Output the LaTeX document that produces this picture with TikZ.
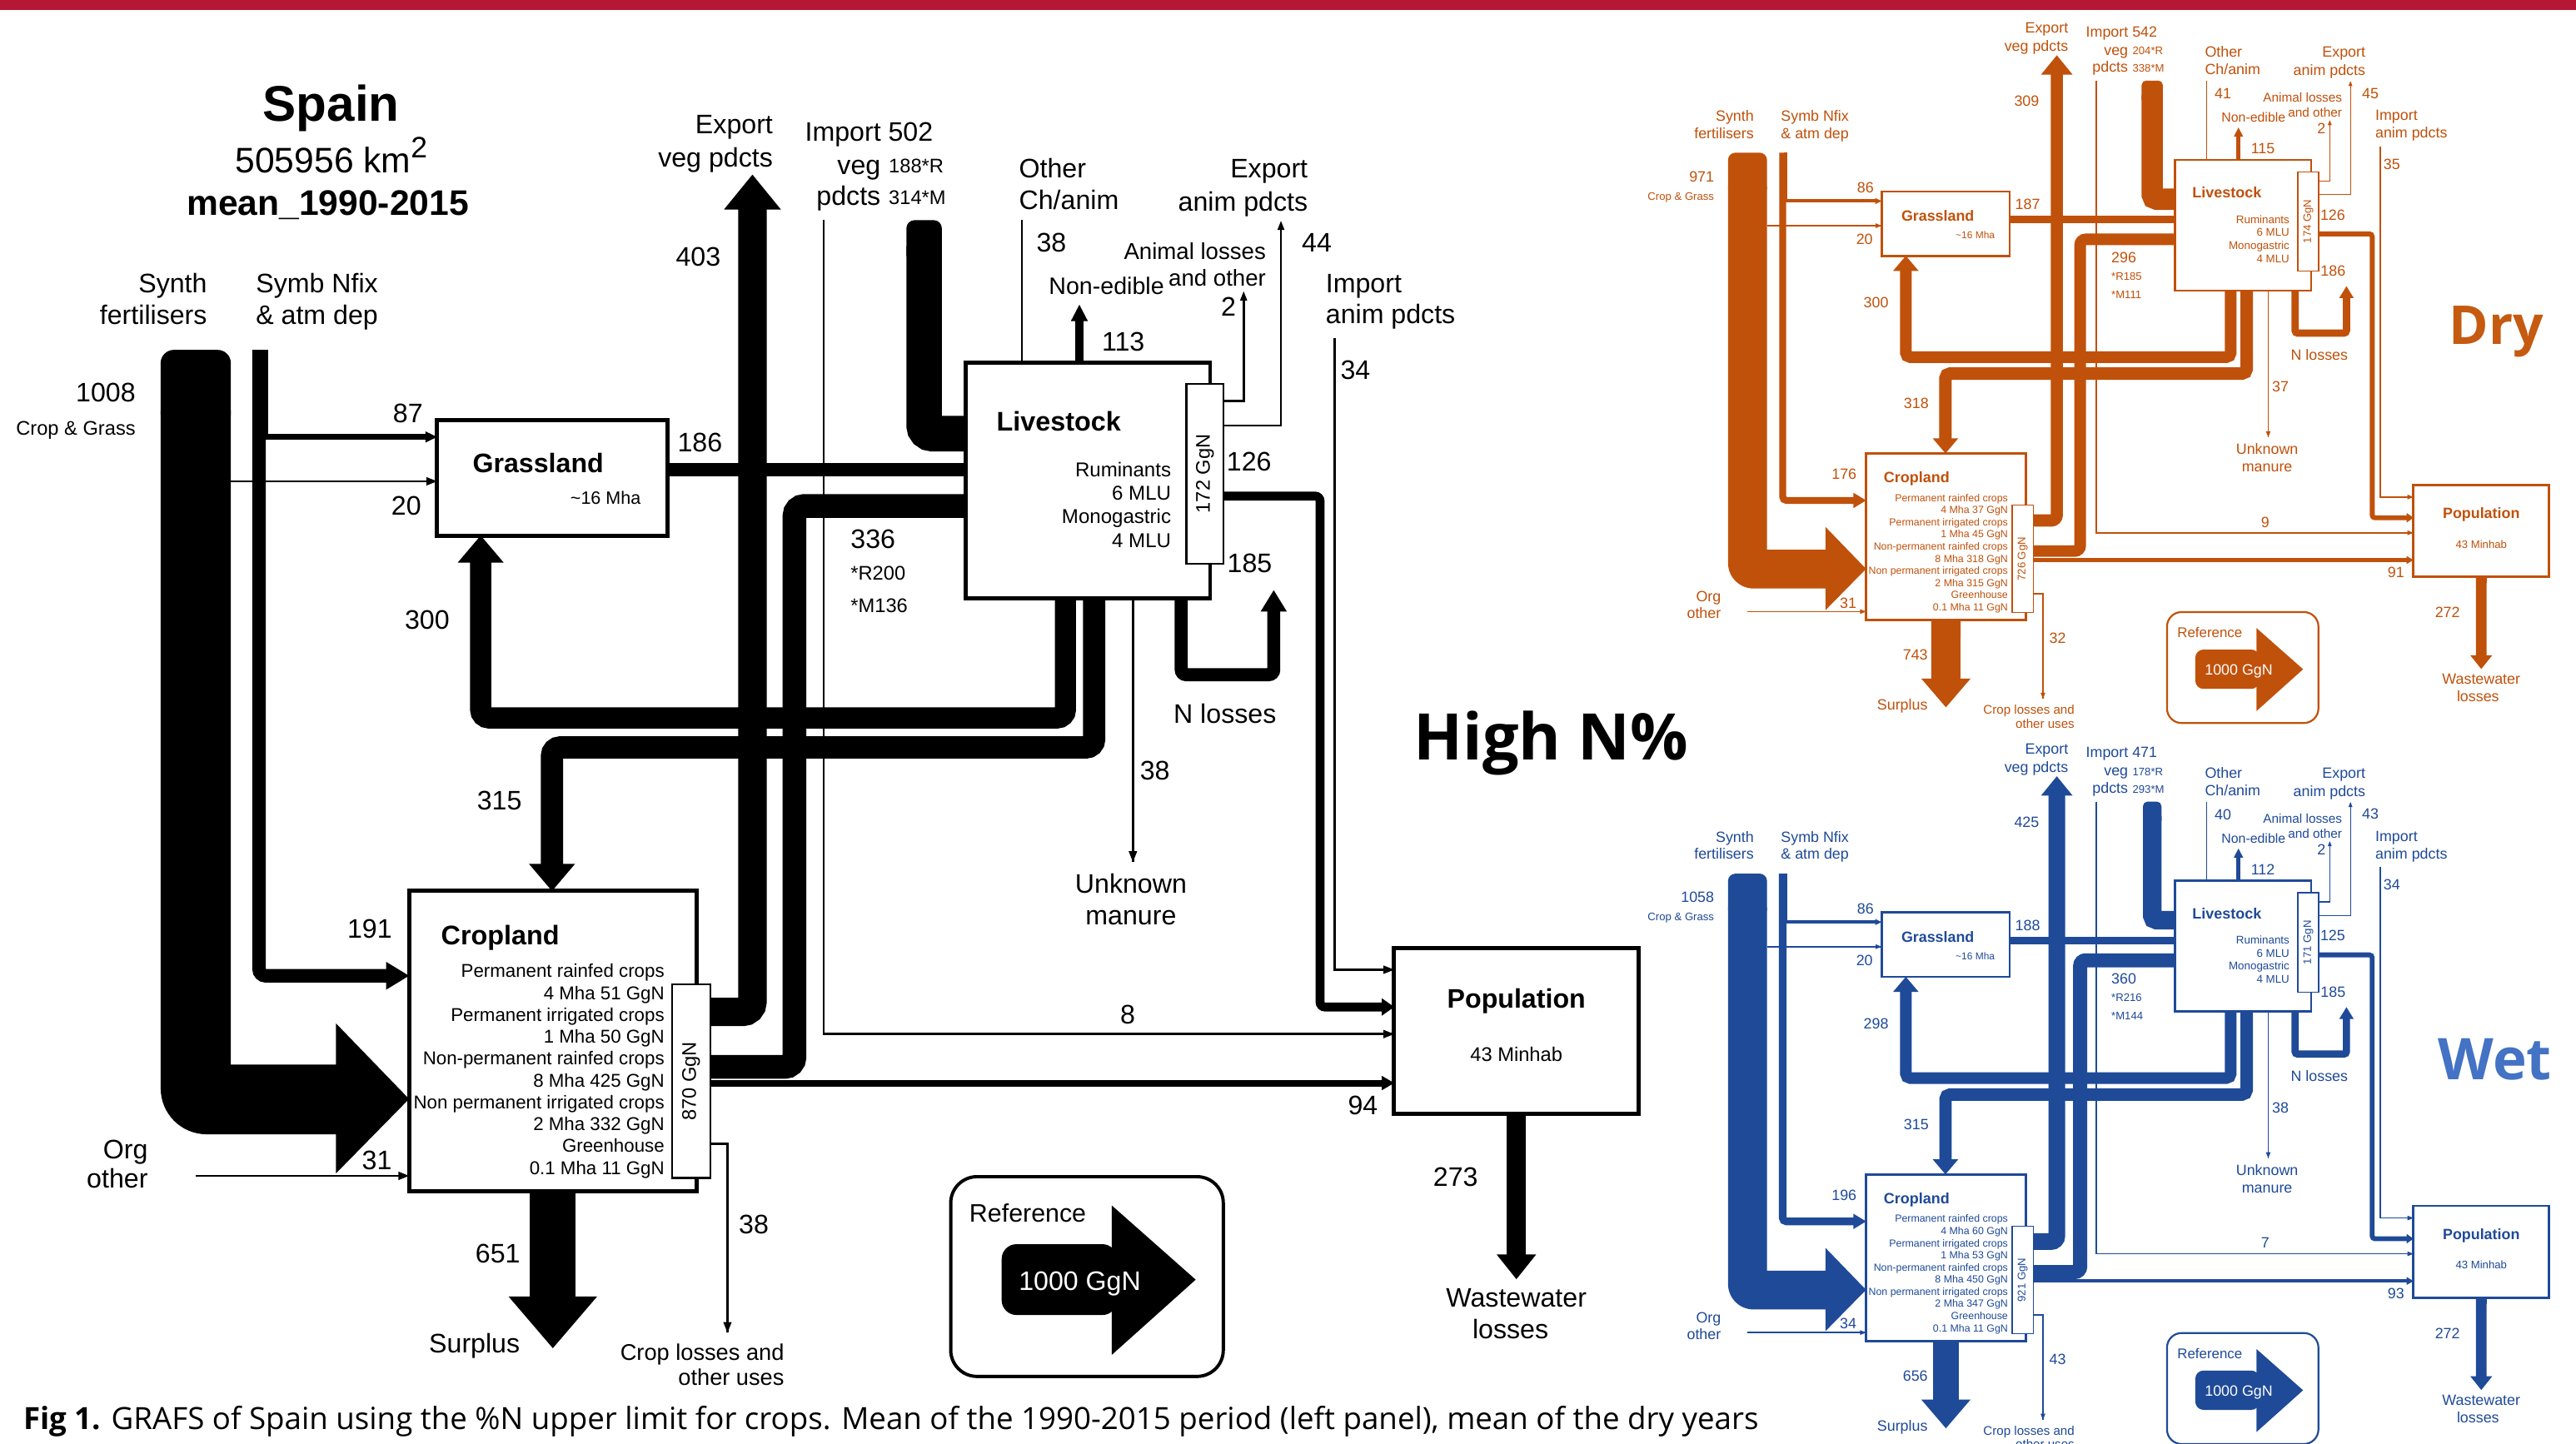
\documentclass[tikz,border=0pt]{standalone}
\usepackage{fontspec}
\usepackage{graphicx}
\setmainfont{Liberation Sans}
\newfontfamily\opensans{Open Sans}
\usetikzlibrary{calc}
\definecolor{drycol}{RGB}{192,81,11}
\definecolor{wetcol}{RGB}{31,74,152}
\definecolor{drylab}{RGB}{197,90,17}
\definecolor{wetlab}{RGB}{68,114,196}
\definecolor{redbar}{RGB}{181,24,52}
\newcommand\setfs[1]{\fontsize{#1}{#1}\selectfont}
\newcommand\tipRt[3]{\fill #1 ++(-#3,-#2) -- #1 -- ++(-#3,#2) -- cycle;}
\newcommand\tipUp[3]{\fill #1 ++(-#2,#3) -- #1 -- ++(#2,#3) -- cycle;}
\newcommand\tipDn[3]{\fill #1 ++(-#2,-#3) -- #1 -- ++(#2,-#3) -- cycle;}
\tikzset{
 fw/.style={line width={#1*0.043pt*\ps}},
 thinfl/.style={line width={1.3pt*\ps}},
 rc/.style={rounded corners={#1pt*\ps}},
 gbox/.style={draw, fill=white, line width={2.5pt*\ps}, inner sep=0pt, outer sep=0pt},
 gcol/.style={draw, fill=white, line width={1.1pt*\ps}, inner sep=0pt, outer sep=0pt},
 lb/.style={inner sep=0pt, outer sep=0pt, font=\setfs{16.3}},
 ls/.style={inner sep=0pt, outer sep=0pt, font=\setfs{12}},
}
\newcommand\grafs{
 % boxes
 \node[gbox, minimum width=140.4pt, minimum height=70.4pt] (\pn grass) at (336.2,290.8) {};
 \node[gbox, minimum width=149pt, minimum height=143.3pt] (\pn live) at (662.1,292.55) {};
 \node[gcol, minimum width=22.7pt, minimum height=109.2pt] (\pn lcol) at (733.45,288.4) {};
 \node[gbox, minimum width=175pt, minimum height=182.6pt] (\pn crop) at (336.5,633.7) {};
 \node[gcol, minimum width=23.3pt, minimum height=117.8pt] (\pn ccol) at (420.65,658.2) {};
 \node[gbox, minimum width=148.8pt, minimum height=100.8pt] (\pn pop) at (923,627.4) {};
 \node[gbox, rounded corners={16pt*\ps}, line width={2pt*\ps}, minimum width=165.9pt, minimum height=121.6pt] (\pn ref) at (661.65,777.1) {};
 % synthetic fertilisers
 \fill[rounded corners={8pt*\ps}] (97.8,260) -- (97.8,213) -- (140.5,213) -- (140.5,260) -- cycle;
 \fill (97.8,250) -- (140.5,250) -- (140.5,648) -- (204.5,648) -- (204.5,623) -- (\pn crop.west |- 0,669) -- (204.5,714.3) -- (204.5,690.5) -- (125.8,690.5) .. controls (110.3,690.5) and (97.8,678) .. (97.8,662.5) -- cycle;
 % symbiotic fixation
 \draw[fw=\grNfC, rc=4] (157.7,213) -- (157.7,594) -- (236,594);
 \tipRt{(\pn crop.west |- 0,594)}{8.5}{14}
 \draw[fw=\grNfG] (161.3,213) -- (161.3,266) -- (259,266);
 \tipRt{(\pn grass.west |- 0,266)}{3.4}{7}
 \draw[thinfl] (140.5,293) -- (\pn grass.west |- 0,293);
 \tipRt{(\pn grass.west |- 0,293)}{2.6}{6.5}
 % manure loops
 \draw[fw=\grMG, rc=5] (648.5,0 |- \pn live.south) -- (648.5,437) -- (292.6,437) -- (292.6,341);
 \tipUp{(292.6,0 |- \pn grass.south)}{14}{16.5}
 \draw[fw=\grMC, rc=5] (666,0 |- \pn live.south) -- (666,455) -- (336,455) -- (336,527.5);
 \tipDn{(336,0 |- \pn crop.north)}{14}{16.5}
 % grassland to livestock
 \draw[fw=\grGL] (\pn grass.east |- 0,286) -- (\pn live.west |- 0,286);
 % imports veg
 \fill[rounded corners={5pt*\ps}] ({562.5-\grImV*0.0215},160) -- ({562.5-\grImV*0.0215},134) -- ({562.5+\grImV*0.0215},134) -- ({562.5+\grImV*0.0215},160) -- cycle;
 \draw[fw=\grImV, rc=5] (562.5,150) -- (562.5,264) -- (\pn live.west |- 0,264);
 \draw[thinfl] (501.3,134) -- (501.3,629.5) -- (\pn pop.west |- 0,629.5);
 \tipRt{(\pn pop.west |- 0,629.5)}{2.6}{6.5}
 % feed
 \draw[fw=\grFd, rc=6] (\pn ccol.east |- 0,649.5) -- (483.6,649.5) -- (483.6,308) -- (\pn live.west |- 0,308);
 % export veg
 \draw[fw=\grExV, rc=6] (\pn ccol.east |- 0,616) -- (458,616) -- (458,126);
 \tipUp{(458,106.3)}{17.3}{21.2}
 % livestock outputs
 \draw[thinfl] (622,134) -- (622,0 |- \pn live.north);
 \draw[fw=\grNE] (657,0 |- \pn live.north) -- (657,194);
 \tipUp{(657,185.5)}{5.2}{10}
 \draw[thinfl] (\pn lcol.east |- 0,244) -- (757,244) -- (757,180);
 \tipUp{(757,177.4)}{2.2}{5.5}
 \draw[thinfl] (\pn lcol.east |- 0,259) -- (779.7,259) -- (779.7,137);
 \tipUp{(779.7,134.5)}{2.2}{5.5}
 \draw[fw=\grLP, rc=3] (\pn lcol.east |- 0,302) -- (803.5,302) -- (803.5,613) -- (843,613);
 \tipRt{(\pn pop.west |- 0,613)}{5.3}{7.5}
 \draw[thinfl] (812.5,206) -- (812.5,590.3) -- (\pn pop.west |- 0,590.3);
 \tipRt{(\pn pop.west |- 0,590.3)}{2.6}{6.5}
 \draw[fw=\grNL, rc=3] (719,0 |- \pn live.south) -- (719,410.7) -- (775.3,410.7) -- (775.3,371);
 \tipUp{(775.3,359.3)}{8}{13}
 \draw[thinfl] (689.6,0 |- \pn live.south) -- (689.6,524.7);
 \tipDn{(689.6,524.7)}{2.6}{6.5}
 % cropland outputs
 \draw[fw=\grCP] (\pn ccol.east |- 0,659.3) -- (843,659.3);
 \tipRt{(\pn pop.west |- 0,659.3)}{4.4}{7.5}
 \draw[thinfl] (\pn ccol.east |- 0,696.4) -- (442.8,696.4) -- (442.8,811.3);
 \tipDn{(442.8,811.3)}{2.6}{6.5}
 \draw[fw=\grSur] (\pn crop.south) -- (336.5,791);
 \tipDn{(336.5,820.7)}{27}{31.5}
 \draw[thinfl] (119.2,715.8) -- (\pn crop.west |- 0,715.8);
 \tipRt{(\pn crop.west |- 0,715.8)}{2.6}{6.5}
 % wastewater
 \draw[fw=\grWW] (\pn pop.south) -- (923,765);
 \tipDn{(923,778.7)}{12}{15}
 % reference arrow
 \fill[rounded corners={9pt*\ps}] (680,757.4) -- (609.7,757.4) -- (609.7,800.5) -- (680,800.5) -- cycle;
 \fill (676.7,733.8) -- (727.8,779) -- (676.7,824.8) -- cycle;
 % labels
 \node[lb, anchor=base east] (\pn t1) at (470.4,81.6) {Export};
 \node[lb, anchor=base east] (\pn t2) at (470.4,101.6) {veg pdcts};
 \node[lb, anchor=base] (\pn t3) at (425,162) {\grExV};
 \node[lb, anchor=base west] (\pn t4) at (490,86) {Import \grImV};
 \node[lb, anchor=base east] (\pn t5) at (536,106) {veg};
 \node[lb, anchor=base east] (\pn t6) at (536,125) {pdcts};
 \node[ls, anchor=base west] (\pn t7) at (541,105.3) {\grImR*R};
 \node[ls, anchor=base west] (\pn t8) at (541,124.7) {\grImM*M};
 \node[lb, anchor=base west] (\pn t9) at (620.3,108.3) {Other};
 \node[lb, anchor=base west] (\pn t10) at (620.3,127.7) {Ch/anim};
 \node[lb, anchor=base] (\pn t11) at (640,153.6) {\grOth};
 \node[lb, anchor=base east] (\pn t12) at (796,108.3) {Export};
 \node[lb, anchor=base east] (\pn t13) at (796,128.4) {anim pdcts};
 \node[lb, anchor=base] (\pn t14) at (801.5,153.5) {\grExA};
 \node[lb, font=\setfs{14}, anchor=base east] (\pn t15) at (770.5,157.8) {Animal losses};
 \node[lb, font=\setfs{14}, anchor=base east] (\pn t16) at (770.5,174.2) {and other};
 \node[lb, anchor=base] (\pn t17) at (747.8,192.5) {\grAL};
 \node[lb, font=\setfs{14.5}, anchor=base] (\pn t18) at (673.5,179.3) {Non-edible};
 \node[lb, anchor=base] (\pn t19) at (683.7,213.8) {\grNE};
 \node[lb, anchor=base west] (\pn t20) at (807,178) {Import};
 \node[lb, anchor=base west] (\pn t21) at (807,197) {anim pdcts};
 \node[lb, anchor=base] (\pn t22) at (825,231) {\grImA};
 \node[lb, anchor=base east] (\pn t23) at (126,178.4) {Synth};
 \node[lb, anchor=base east] (\pn t24) at (126,197.3) {fertilisers};
 \node[lb, anchor=base west] (\pn t25) at (155.8,178.4) {Symb Nfix};
 \node[lb, anchor=base west] (\pn t26) at (155.8,197.3) {\& atm dep};
 \node[lb, anchor=base east] (\pn t27) at (82.5,244.7) {\grSyn};
 \node[ls, anchor=base east] (\pn t28) at (82.5,264.7) {Crop \& Grass};
 \node[lb, anchor=base] (\pn t29) at (248.3,257.3) {\grNfG};
 \node[lb, anchor=base] (\pn t30) at (247.3,313.4) {\grSyG};
 \node[lb, anchor=base] (\pn t31) at (426,275.1) {\grGL};
 \node[lb, font=\setfs{16.3}\bfseries, anchor=base] (\pn t32) at (327.6,287.9) {Grassland};
 \node[lb, font=\setfs{10.9}, anchor=base] (\pn t33) at (368.6,306.9) {\textasciitilde16 Mha};
 \node[lb, font=\setfs{16.4}\bfseries, anchor=base west] (\pn t34) at (606.6,262.2) {Livestock};
 \node[lb, font=\setfs{12.2}, anchor=base east] (\pn t35) at (712.8,290.4) {Ruminants};
 \node[lb, font=\setfs{12.2}, anchor=base east] (\pn t36) at (712.8,304.4) {6 MLU};
 \node[lb, font=\setfs{12.2}, anchor=base east] (\pn t37) at (712.8,318.7) {Monogastric};
 \node[lb, font=\setfs{12.2}, anchor=base east] (\pn t38) at (712.8,333.2) {4 MLU};
 \node[ls, rotate=90] (\pn t39) at (733.45,288.4) {\grLG{} GgN};
 \node[lb, anchor=base] (\pn t40) at (760.3,286.7) {\grLP};
 \node[lb, anchor=base] (\pn t41) at (760.7,348.6) {\grNL};
 \node[lb, anchor=base west] (\pn t42) at (517.8,333.9) {\grFd};
 \node[ls, anchor=base west] (\pn t43) at (517.8,353.1) {*R\grFR};
 \node[ls, anchor=base west] (\pn t44) at (517.8,372.6) {*M\grFM};
 \node[lb, anchor=base] (\pn t45) at (745.6,440.4) {N losses};
 \node[lb, anchor=base] (\pn t46) at (260,383) {\grMG};
 \node[lb, anchor=base] (\pn t47) at (304,493) {\grMC};
 \node[lb, anchor=base] (\pn t48) at (703,474.8) {\grUM};
 \node[lb, anchor=base] (\pn t49) at (688.4,543.8) {Unknown};
 \node[lb, anchor=base] (\pn t50) at (688.4,562.9) {manure};
 \node[lb, anchor=base] (\pn t51) at (686.4,623.4) {\grIP};
 \node[lb, anchor=base] (\pn t52) at (829.6,678.5) {\grCP};
 \node[lb, font=\setfs{16.3}\bfseries, anchor=base] (\pn t53) at (923,613.7) {Population};
 \node[ls, anchor=base] (\pn t54) at (923,646.1) {43 Minhab};
 \node[lb, anchor=base] (\pn t55) at (886,722.2) {\grWW};
 \node[lb, anchor=base] (\pn t56) at (923,795.5) {Wastewater};
 \node[lb, anchor=base] (\pn t57) at (919.4,814.8) {losses};
 \node[lb, font=\setfs{15.4}, anchor=base] (\pn t58) at (625.6,744) {Reference};
 \node[lb, text=white, anchor=base] (\pn t59) at (657.3,785.3) {1000 GgN};
 \node[lb, anchor=base] (\pn t60) at (225,571) {\grNfC};
 \node[lb, font=\setfs{16.4}\bfseries, anchor=base west] (\pn t61) at (268.5,574.9) {Cropland};
 \node[lb, font=\setfs{11.3}, anchor=base east] (\pn c1) at (404.4,595.1) {Permanent rainfed crops};
 \node[lb, font=\setfs{11.3}, anchor=base east] (\pn c2) at (404.4,608.4) {4 Mha \grCa{} GgN};
 \node[lb, font=\setfs{11.3}, anchor=base east] (\pn c3) at (404.4,621.7) {Permanent irrigated crops};
 \node[lb, font=\setfs{11.3}, anchor=base east] (\pn c4) at (404.4,635.0) {1 Mha \grCb{} GgN};
 \node[lb, font=\setfs{11.3}, anchor=base east] (\pn c5) at (404.4,648.3) {Non-permanent rainfed crops};
 \node[lb, font=\setfs{11.3}, anchor=base east] (\pn c6) at (404.4,661.6) {8 Mha \grCc{} GgN};
 \node[lb, font=\setfs{11.3}, anchor=base east] (\pn c7) at (404.4,674.9) {Non permanent irrigated crops};
 \node[lb, font=\setfs{11.3}, anchor=base east] (\pn c8) at (404.4,688.2) {2 Mha \grCd{} GgN};
 \node[lb, font=\setfs{11.3}, anchor=base east] (\pn c9) at (404.4,701.5) {Greenhouse};
 \node[lb, font=\setfs{11.3}, anchor=base east] (\pn c10) at (404.4,714.8) {0.1 Mha \grCe{} GgN};
 \node[ls, rotate=90] (\pn t72) at (420.65,658.2) {\grCG{} GgN};
 \node[lb, anchor=base east] (\pn t73) at (90,705.2) {Org};
 \node[lb, anchor=base east] (\pn t74) at (90,723.2) {other};
 \node[lb, anchor=base] (\pn t75) at (229.4,711.9) {\grOrg};
 \node[lb, anchor=base] (\pn t76) at (303,768.7) {\grSur};
 \node[lb, anchor=base] (\pn t77) at (288.8,823.6) {Surplus};
 \node[lb, anchor=base] (\pn t78) at (458.8,750.9) {\grCL};
 \node[lb, font=\setfs{13.8}, anchor=base east] (\pn t79) at (477.3,827.9) {Crop losses and};
 \node[lb, font=\setfs{13.8}, anchor=base east] (\pn t80) at (477.3,843.3) {other uses};
}
\begin{document}
\begin{tikzpicture}[x=1pt,y=-1pt]
\fill[white] (0,0) rectangle (1568,879);
\useasboundingbox (0,0) rectangle (1568,879);
\fill[redbar] (0,0) rectangle (1568,6.3);
% ---------- left panel: mean 1990-2015
\begin{scope}[color=black]
 \def\pn{L-}\def\ps{1}
 \def\grSyn{1008}\def\grNfG{87}\def\grSyG{20}\def\grNfC{191}\def\grOrg{31}
 \def\grGL{186}\def\grExV{403}\def\grImV{502}\def\grImR{188}\def\grImM{314}
 \def\grOth{38}\def\grNE{113}\def\grAL{2}\def\grExA{44}\def\grImA{34}
 \def\grLG{172}\def\grLP{126}\def\grNL{185}\def\grUM{38}\def\grMG{300}\def\grMC{315}
 \def\grFd{336}\def\grFR{200}\def\grFM{136}\def\grIP{8}\def\grCP{94}\def\grWW{273}
 \def\grCG{870}\def\grSur{651}\def\grCL{38}
 \def\grCa{51}\def\grCb{50}\def\grCc{425}\def\grCd{332}\def\grCe{11}
 \grafs
 \node[lb, font=\setfs{30.5}\bfseries, anchor=base] (title) at (201.6,73.6) {Spain};
 \node[lb, font=\setfs{21.6}, anchor=base] (area) at (201.7,105.2) {505956 km\raisebox{0.42em}{\setfs{18}2}};
 \node[lb, font=\setfs{21.6}\bfseries, anchor=base] (period) at (199.5,131) {mean\_1990-2015};
\end{scope}
% ---------- dry panel
\begin{scope}[shift={(997.5,-25.4)}, scale=0.5556, transform shape, color=drycol]
 \def\pn{D-}\def\ps{0.5556}
 \def\grSyn{971}\def\grNfG{86}\def\grSyG{20}\def\grNfC{176}\def\grOrg{31}
 \def\grGL{187}\def\grExV{309}\def\grImV{542}\def\grImR{204}\def\grImM{338}
 \def\grOth{41}\def\grNE{115}\def\grAL{2}\def\grExA{45}\def\grImA{35}
 \def\grLG{174}\def\grLP{126}\def\grNL{186}\def\grUM{37}\def\grMG{300}\def\grMC{318}
 \def\grFd{296}\def\grFR{185}\def\grFM{111}\def\grIP{9}\def\grCP{91}\def\grWW{272}
 \def\grCG{726}\def\grSur{743}\def\grCL{32}
 \def\grCa{37}\def\grCb{45}\def\grCc{318}\def\grCd{315}\def\grCe{11}
 \grafs
\end{scope}
% ---------- wet panel
\begin{scope}[shift={(997.5,413.5)}, scale=0.5556, transform shape, color=wetcol]
 \def\pn{W-}\def\ps{0.5556}
 \def\grSyn{1058}\def\grNfG{86}\def\grSyG{20}\def\grNfC{196}\def\grOrg{34}
 \def\grGL{188}\def\grExV{425}\def\grImV{471}\def\grImR{178}\def\grImM{293}
 \def\grOth{40}\def\grNE{112}\def\grAL{2}\def\grExA{43}\def\grImA{34}
 \def\grLG{171}\def\grLP{125}\def\grNL{185}\def\grUM{38}\def\grMG{298}\def\grMC{315}
 \def\grFd{360}\def\grFR{216}\def\grFM{144}\def\grIP{7}\def\grCP{93}\def\grWW{272}
 \def\grCG{921}\def\grSur{656}\def\grCL{43}
 \def\grCa{60}\def\grCb{53}\def\grCc{450}\def\grCd{347}\def\grCe{11}
 \grafs
\end{scope}
% ---------- panel labels and caption
\node[inner sep=0pt, anchor=base west] (highn) at (860.3,462.5) {\resizebox{167pt}{!}{\opensans\bfseries High N\%}};
\node[inner sep=0pt, anchor=base west, text=drylab] (drylabel) at (1490.7,209.5) {\resizebox{57.5pt}{!}{\opensans\bfseries Dry}};
\node[inner sep=0pt, anchor=base west, text=wetlab] (wetlabel) at (1484,657.4) {\resizebox{69pt}{!}{\opensans\bfseries Wet}};
\node[inner sep=0pt, anchor=base west] (caption) at (14,870) {\resizebox{1056pt}{!}{\opensans\textbf{Fig 1.} GRAFS of Spain using the \%N upper limit for crops. Mean of the 1990-2015 period (left panel), mean of the dry years}};
\end{tikzpicture}
\end{document}
